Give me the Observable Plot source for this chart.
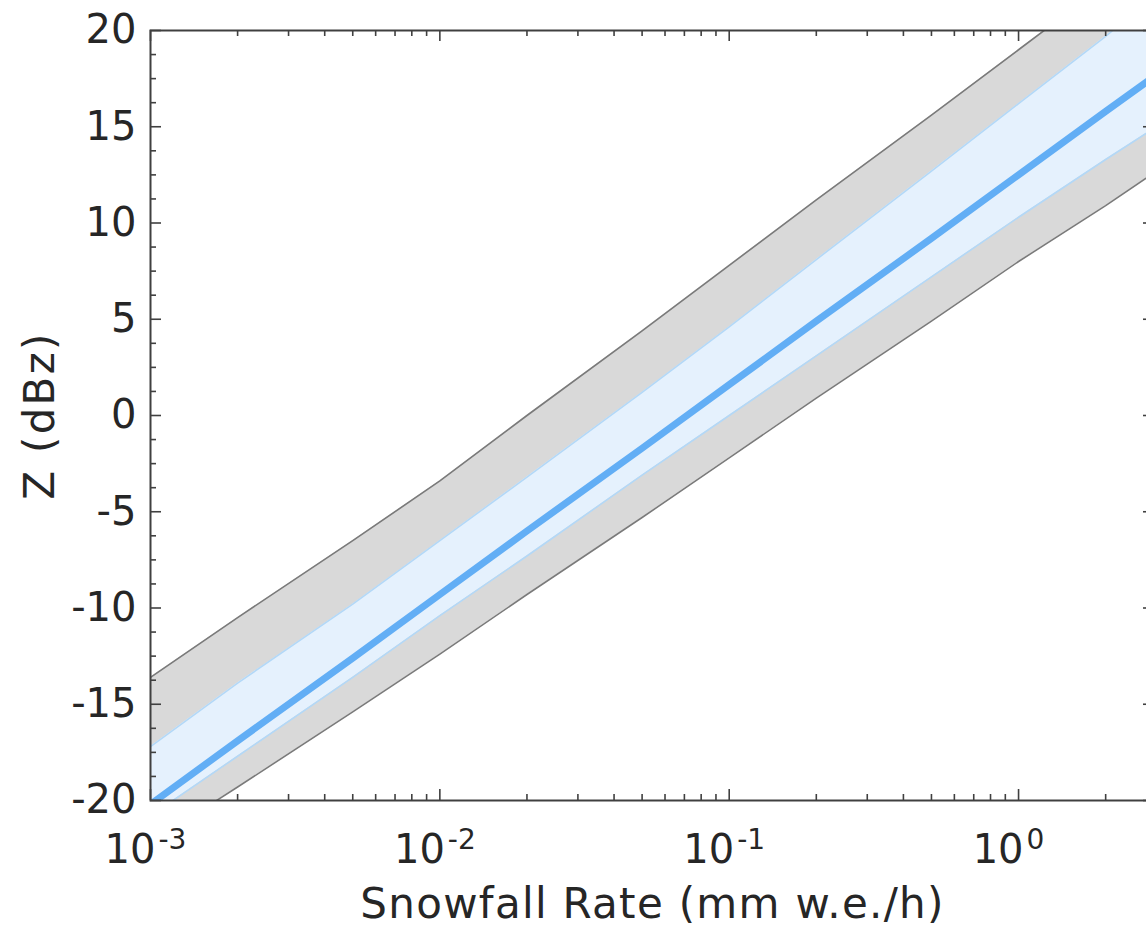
<!DOCTYPE html>
<html><head><meta charset="utf-8">
<script src="https://cdn.jsdelivr.net/npm/d3@7"></script>
<script src="https://cdn.jsdelivr.net/npm/@observablehq/plot@0.6"></script>
<style>
html,body{margin:0;padding:0;background:#fff;overflow:hidden;}
#chart{width:1146px;height:927px;overflow:hidden;}
#chart svg{display:block;max-width:none !important;height:927px !important;}
</style>
</head><body><div id="chart"></div>
<script>
// Snowfall rate (mm w.e./h) sample points
const snowRate   = [0.001, 0.002, 0.005, 0.01, 0.02, 0.05, 0.1, 0.2, 0.5, 1, 2, 3];
// Reflectivity (dBz)
const zMedian    = [-20.2, -16.9, -12.6, -9.3, -6.0, -1.7, 1.6, 4.9, 9.2, 12.5, 15.8, 17.7];
const zInnerLow  = [-20.8, -17.7, -13.6, -10.4, -7.3, -3.1, 0.0, 3.1, 7.2, 10.3, 13.3, 15.0];
const zInnerHigh = [-17.2, -13.9, -9.8, -6.5, -3.2, 1.2, 4.6, 8.1, 12.7, 16.2, 19.7, 21.9];
const zOuterLow  = [-22.2, -19.3, -15.4, -12.4, -9.3, -5.3, -2.2, 0.9, 4.9, 8.0, 10.9, 12.7];
const zOuterHigh = [-13.6, -10.5, -6.5, -3.4, 0.0, 4.4, 7.8, 11.2, 15.6, 19.0, 22.4, 24.4];

// Axis ticks
const yTicks = [-20, -15, -10, -5, 0, 5, 10, 15, 20];
const yMinorTicks = [-18.75, -17.5, -16.25, -13.75, -12.5, -11.25, -8.75, -7.5, -6.25, -3.75, -2.5, -1.25,
  1.25, 2.5, 3.75, 6.25, 7.5, 8.75, 11.25, 12.5, 13.75, 16.25, 17.5, 18.75];
const xTicks = [0.001, 0.01, 0.1, 1];
const xTickBase = ["10", "10", "10", "10"];
const xTickExp = ["-3", "-2", "-1", "0"];
const xMinorTicks = [0.002,0.003,0.004,0.005,0.006,0.007,0.008,0.009,
  0.02,0.03,0.04,0.05,0.06,0.07,0.08,0.09,
  0.2,0.3,0.4,0.5,0.6,0.7,0.8,0.9, 2];
const xLabel = "Snowfall Rate (mm w.e./h)";
const yLabel = "Z (dBz)";

const rows = snowRate.map((s, i) => ({
  s, med: zMedian[i], ilo: zInnerLow[i], ihi: zInnerHigh[i], olo: zOuterLow[i], ohi: zOuterHigh[i]
}));
const xTickRows = xTicks.map((v, i) => ({v, base: xTickBase[i], exp: xTickExp[i]}));

const W = 1160, H = 927;
const mL = 150, mR = 6, mT = 30, mB = 127;
const pw = W - mL - mR, ph = H - mT - mB;
const ink = "#262626", axisCol = "#404040";
const font = "DejaVu Sans, sans-serif";
const fs = 40;

const chart = Plot.plot({
  width: W, height: H,
  marginLeft: mL, marginRight: mR, marginTop: mT, marginBottom: mB,
  style: {fontFamily: font, background: "#fff", color: ink, overflow: "visible"},
  x: {type: "log", domain: [0.001, 2.95], axis: null},
  y: {domain: [-20, 20], axis: null},
  marks: [
    Plot.areaY(rows, {x: "s", y1: "olo", y2: "ohi", fill: "#d9d9d9", clip: true}),
    Plot.line(rows, {x: "s", y: "olo", stroke: "#7a7a7a", strokeWidth: 1.6, clip: true}),
    Plot.line(rows, {x: "s", y: "ohi", stroke: "#7a7a7a", strokeWidth: 1.6, clip: true}),
    Plot.areaY(rows, {x: "s", y1: "ilo", y2: "ihi", fill: "#e5f1fd", clip: true}),
    Plot.line(rows, {x: "s", y: "ilo", stroke: "#b3d8f7", strokeWidth: 1.6, clip: true}),
    Plot.line(rows, {x: "s", y: "ihi", stroke: "#b3d8f7", strokeWidth: 1.6, clip: true}),
    Plot.line(rows, {x: "s", y: "med", stroke: "#62aef5", strokeWidth: 7, clip: true}),
    Plot.frame({stroke: axisCol, strokeWidth: 2}),
    // bottom ticks
    Plot.tickX(xTicks, {x: d => d, insetTop: ph - 11, stroke: axisCol, strokeWidth: 1.6}),
    Plot.tickX(xMinorTicks, {x: d => d, insetTop: ph - 6, stroke: axisCol, strokeWidth: 1.6}),
    // top ticks
    Plot.tickX(xTicks, {x: d => d, insetBottom: ph - 11, stroke: axisCol, strokeWidth: 1.6}),
    Plot.tickX(xMinorTicks, {x: d => d, insetBottom: ph - 6, stroke: axisCol, strokeWidth: 1.6}),
    // left ticks
    Plot.tickY(yTicks, {y: d => d, insetRight: pw - 11, stroke: axisCol, strokeWidth: 1.6}),
    Plot.tickY(yMinorTicks, {y: d => d, insetRight: pw - 6, stroke: axisCol, strokeWidth: 1.6}),
    // right ticks
    Plot.tickY(yTicks, {y: d => d, insetLeft: pw - 11, stroke: axisCol, strokeWidth: 1.6}),
    Plot.tickY(yMinorTicks, {y: d => d, insetLeft: pw - 6, stroke: axisCol, strokeWidth: 1.6}),
    // y tick labels
    Plot.text(yTicks, {y: d => d, text: d => String(d), frameAnchor: "left", textAnchor: "end",
      lineAnchor: "middle", dx: -14, fontSize: fs, fill: ink}),
    // x tick labels 10^n
    Plot.text(xTickRows, {x: "v", text: "base", frameAnchor: "bottom", textAnchor: "end",
      lineAnchor: "middle", dx: 5, dy: 50, fontSize: fs, fill: ink}),
    Plot.text(xTickRows, {x: "v", text: "exp", frameAnchor: "bottom", textAnchor: "start",
      lineAnchor: "middle", dx: 8, dy: 40, fontSize: 28, fill: ink}),
    // axis titles
    Plot.text([xLabel], {text: d => d, frameAnchor: "bottom", textAnchor: "middle", lineAnchor: "middle",
      dy: 104, fontSize: 42, fill: ink}),
    Plot.text([yLabel], {text: d => d, frameAnchor: "left", textAnchor: "middle", lineAnchor: "middle",
      rotate: -90, dx: -110, fontSize: 42, fill: ink})
  ]
});
// widen the axis titles a little, like the reference lettering
d3.select(chart).selectAll("text")
  .filter(function() { return this.textContent === xLabel; })
  .style("letter-spacing", "1.3px");
d3.select(chart).selectAll("text")
  .filter(function() { return this.textContent === yLabel; })
  .style("letter-spacing", "2.3px");
document.getElementById("chart").appendChild(chart);
</script>
</body></html>
